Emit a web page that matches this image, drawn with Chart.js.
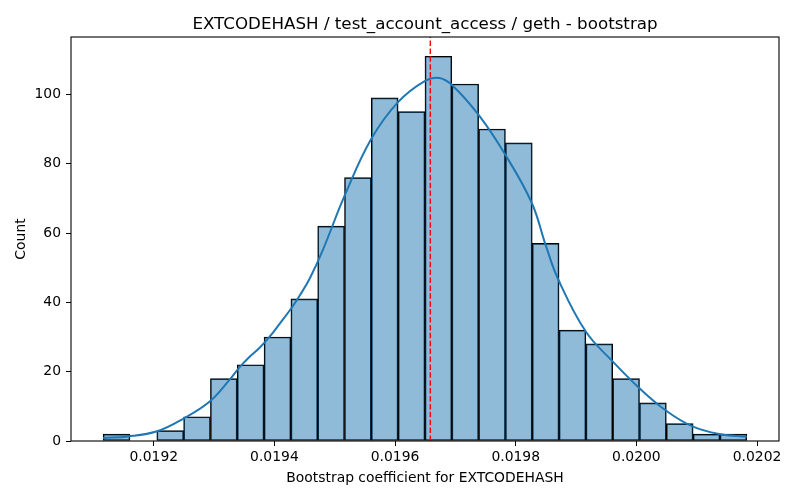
<!DOCTYPE html>
<html>
<head>
<meta charset="utf-8">
<title>EXTCODEHASH bootstrap</title>
<script src="https://cdn.jsdelivr.net/npm/chart.js@4"></script>
<style>
    html, body { margin: 0; padding: 0; background: #ffffff; }
    canvas { display: block; }
</style>
</head>
<body>
<canvas id="histChart" width="800" height="500"></canvas>
<script>
// ============================================
// Bootstrap histogram + KDE
// ============================================

// Histogram bin edges (24 bins)
const binEdges = [
    0.0191161, 0.0191606, 0.0192050, 0.0192495, 0.0192939, 0.0193384,
    0.0193828, 0.0194273, 0.0194717, 0.0195162, 0.0195606, 0.0196051,
    0.0196496, 0.0196940, 0.0197385, 0.0197829, 0.0198274, 0.0198718,
    0.0199163, 0.0199607, 0.0200052, 0.0200496, 0.0200941, 0.0201385,
    0.0201830
];

// Counts per bin
const binCounts = [
    2, 0, 3, 7, 18, 22, 30, 41, 62, 76, 99, 95,
    111, 103, 90, 86, 57, 32, 28, 18, 11, 5, 2, 2
];

// KDE curve (x, count)
const kdeX = [
    0.0191161, 0.0191575, 0.0192055, 0.0192485, 0.0192927, 0.0193258,
    0.0193424, 0.0193589, 0.0193755, 0.0193921, 0.0194086, 0.0194280,
    0.0194417, 0.0194583, 0.0194800, 0.0195162, 0.0195604,
    0.0196045, 0.0196498, 0.0196735, 0.0196955, 0.0197397, 0.0197823,
    0.0198263, 0.0198502, 0.0198705, 0.0199164, 0.0199604, 0.0200046,
    0.0200488, 0.0200929, 0.0201371, 0.0201830
];
const kdeY = [
    0.9, 1.3, 2.8, 6.4, 11.4, 17.7,
    21.3, 24.3, 26.9, 30.1, 33.8, 38.3,
    41.9, 46.8, 55.0, 70.7, 87.1,
    97.7, 103.9, 104.7, 102.5, 93.8, 82.7,
    68.8, 56.2, 46.6, 31.5, 23.0, 15.3,
    8.8, 4.2, 2.0, 1.2
];

// Mean of the bootstrap samples (red dashed line)
const meanValue = 0.0196584;

// Axis ticks
const xTicks = [0.0192, 0.0194, 0.0196, 0.0198, 0.0200, 0.0202];
const yTicks = [0, 20, 40, 60, 80, 100];

const chartTitle = 'EXTCODEHASH / test_account_access / geth - bootstrap';
const xLabel = 'Bootstrap coefficient for EXTCODEHASH';
const yLabel = 'Count';

// Axis limits (matplotlib-style 5% margins)
const xMin = 0.0190628;
const xMax = 0.0202364;
const yMax = 116.55;

const FONT = "'DejaVu Sans', sans-serif";

Chart.defaults.color = '#000000';
Chart.defaults.font.family = FONT;

// Build datasets
const barData = binCounts.map((c, i) => ({
    x: (binEdges[i] + binEdges[i + 1]) / 2,
    y: c > 0 ? c : null
}));
const kdeData = kdeX.map((x, i) => ({ x: x, y: kdeY[i] }));
const meanData = [{ x: meanValue, y: 0 }, { x: meanValue, y: yMax }];

// Frame + title plugin
const framePlugin = {
    id: 'frame',
    afterDraw(chart) {
        const { ctx, chartArea } = chart;
        ctx.save();
        ctx.strokeStyle = '#000000';
        ctx.lineWidth = 1.1;
        ctx.strokeRect(chartArea.left, chartArea.top,
            chartArea.right - chartArea.left, chartArea.bottom - chartArea.top);

        ctx.fillStyle = '#000000';
        ctx.font = `16.7px ${FONT}`;
        ctx.textAlign = 'center';
        ctx.textBaseline = 'alphabetic';
        ctx.fillText(chartTitle, (chartArea.left + chartArea.right) / 2, chartArea.top - 8.3);
        ctx.restore();
    }
};

const ctx = document.getElementById('histChart').getContext('2d');

new Chart(ctx, {
    type: 'bar',
    data: {
        datasets: [
            {
                type: 'bar',
                data: barData,
                backgroundColor: 'rgba(31, 119, 180, 0.5)',
                borderColor: '#000000',
                borderWidth: 1,
                borderSkipped: false,
                barPercentage: 1.0,
                categoryPercentage: 1.0,
                order: 3
            },
            {
                type: 'line',
                data: kdeData,
                borderColor: '#1f77b4',
                borderWidth: 2,
                pointRadius: 0,
                fill: false,
                tension: 0.4,
                order: 2
            },
            {
                type: 'line',
                data: meanData,
                borderColor: '#ff0000',
                borderWidth: 1.4,
                borderDash: [5.5, 2.4],
                pointRadius: 0,
                fill: false,
                tension: 0,
                order: 1
            }
        ]
    },
    options: {
        responsive: false,
        animation: false,
        layout: {
            padding: { top: 37, right: 21, left: 0, bottom: 0 }
        },
        plugins: {
            legend: { display: false },
            tooltip: { enabled: false },
            title: { display: false }
        },
        scales: {
            x: {
                type: 'linear',
                min: xMin,
                max: xMax,
                offset: false,
                afterFit(scale) { scale.height = 59; },
                afterBuildTicks(scale) {
                    scale.ticks = xTicks.map(v => ({ value: v }));
                },
                ticks: {
                    autoSkip: false,
                    maxRotation: 0,
                    padding: 3,
                    font: { size: 13.9 },
                    callback: (v) => Number(v).toFixed(4)
                },
                grid: {
                    display: true,
                    drawOnChartArea: false,
                    drawTicks: true,
                    tickLength: 5,
                    color: '#000000',
                    lineWidth: 1,
                    offset: false
                },
                border: { display: false },
                title: {
                    display: true,
                    text: xLabel,
                    font: { size: 13.9 },
                    padding: { top: 0, bottom: 13.7 }
                }
            },
            y: {
                type: 'linear',
                min: 0,
                max: yMax,
                afterFit(scale) { scale.width = 71; },
                afterBuildTicks(scale) {
                    scale.ticks = yTicks.map(v => ({ value: v }));
                },
                ticks: {
                    autoSkip: false,
                    padding: 5,
                    font: { size: 13.9 }
                },
                grid: {
                    display: true,
                    drawOnChartArea: false,
                    drawTicks: true,
                    tickLength: 5,
                    color: '#000000',
                    lineWidth: 1
                },
                border: { display: false },
                title: {
                    display: true,
                    text: yLabel,
                    font: { size: 13.9 },
                    padding: { top: 12.7, bottom: 0 }
                }
            }
        }
    },
    plugins: [framePlugin]
});
</script>
</body>
</html>
